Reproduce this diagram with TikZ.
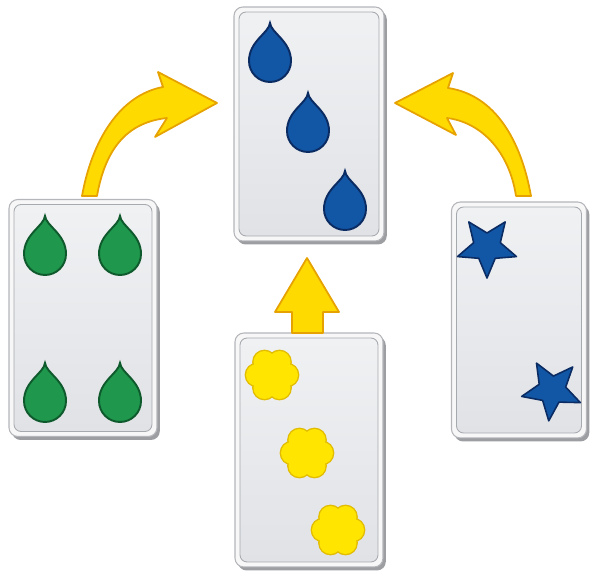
\documentclass[tikz,border=0pt]{standalone}
\usepackage{tikz}
\usetikzlibrary{calc}

\definecolor{cardrim}{HTML}{F7F7F8}
\definecolor{cardedge}{HTML}{B4B6BA}
\definecolor{cardtop}{HTML}{F0F1F3}
\definecolor{cardbot}{HTML}{E0E2E6}
\definecolor{cardline}{HTML}{A6A9AE}
\definecolor{cardshadow}{HTML}{9C9EA2}
\definecolor{dropblue}{HTML}{1256A6}
\definecolor{dropnavy}{HTML}{0B2C63}
\definecolor{dropgreen}{HTML}{1F984E}
\definecolor{dropdkgreen}{HTML}{0F5A2C}
\definecolor{flowerfill}{HTML}{FFE500}
\definecolor{flowerline}{HTML}{E2BC00}
\definecolor{arrowfill}{HTML}{FFDA00}
\definecolor{arrowline}{HTML}{E6A200}

\tikzset{
  card/.style={draw=cardedge, line width=0.6pt, fill=cardrim, rounded corners=5pt,
    inner sep=0pt, outer sep=0pt,
    preaction={fill=cardshadow, transform canvas={shift={(1.6pt,-2pt)}}}},
  cardinner/.style={draw=cardline, line width=0.5pt, top color=cardtop, bottom color=cardbot,
    rounded corners=4pt},
  bluedrop/.style={fill=dropblue, draw=dropnavy, line width=1.1pt},
  greendrop/.style={fill=dropgreen, draw=dropdkgreen, line width=1.1pt},
  bluestar/.style={fill=dropblue, draw=dropnavy, line width=0.9pt, line join=round},
  bigarrow/.style={fill=arrowfill, draw=arrowline, line width=1pt, line join=round},
  pics/drop/.style={code={
    \filldraw[#1] (0,-38) .. controls (1,-28) and (21,-20) .. (21,0)
      arc[start angle=0, end angle=180, radius=21]
      .. controls (-21,-20) and (-1,-28) .. (0,-38) -- cycle;
  }},
  pics/starshape/.style={code={
    \filldraw[#1] (-90:31)
      \foreach \a/\r in {-54/14,-18/31,18/14,54/31,90/14,126/31,162/14,198/31,234/14} { -- (\a:\r) }
      -- cycle;
  }},
  pics/flower/.style={code={
    \foreach \a in {0,60,...,300} \fill[flowerline] (\a:15) circle[radius=12.4];
    \fill[flowerline] (0,0) circle[radius=16];
    \foreach \a in {0,60,...,300} \fill[flowerfill] (\a:15) circle[radius=11];
    \fill[flowerfill] (0,0) circle[radius=15];
  }},
}

\begin{document}
\begin{tikzpicture}[x=0.02cm, y=-0.02cm]
\useasboundingbox (0,0) rectangle (593,577);

% the four cards
\node[card, minimum width=3cm, minimum height=4.68cm] (top) at (309,124) {};
\node[card, minimum width=2.96cm, minimum height=4.74cm] (left) at (83,318) {};
\node[card, minimum width=2.7cm, minimum height=4.72cm] (right) at (519,320) {};
\node[card, minimum width=2.96cm, minimum height=4.68cm] (bottom) at (309,450) {};
\foreach \c in {top,left,right,bottom}
  \draw[cardinner] ($(\c.north west)+(5,5)$) rectangle ($(\c.south east)+(-5,-5)$);

% top card: three blue drops
\pic at (270,61) {drop=bluedrop};
\pic at (308,131) {drop=bluedrop};
\pic at (345,209) {drop=bluedrop};

% left card: four green drops
\foreach \px in {45,120}
  \foreach \py in {254,401}
    \pic at (\px,\py) {drop=greendrop};

% right card: two stars
\pic[rotate=36] at (487,247) {starshape=bluestar};
\pic[rotate=30] at (552,390) {starshape=bluestar};

% bottom card: three flowers
\pic at (272,375) {flower};
\pic at (307,453) {flower};
\pic at (338,530) {flower};

% arrows into the top card
\coordinate (L0) at (82,196);
\coordinate (LT) at (217,103);
\filldraw[bigarrow] (L0) .. controls (92,140) and (120,95) .. (163,87)
  -- (158,72) -- (LT) -- (155,137) -- (167,118)
  .. controls (130,122) and (106,145) .. (97,196) -- cycle;

\coordinate (R0) at (531,196);
\coordinate (RT) at (395,103);
\filldraw[bigarrow] (R0) .. controls (521,140) and (495,95) .. (448,88)
  -- (453,73) -- (RT) -- (456,135) -- (447,118)
  .. controls (480,122) and (509,150) .. (516,196) -- cycle;

\coordinate (B0) at (307,333);
\coordinate (BT) at (307,258);
\filldraw[bigarrow] (292,333) -- (292,312) -- (275,312) -- (BT)
  -- (339,312) -- (323,312) -- (323,333) -- cycle;
\end{tikzpicture}
\end{document}
